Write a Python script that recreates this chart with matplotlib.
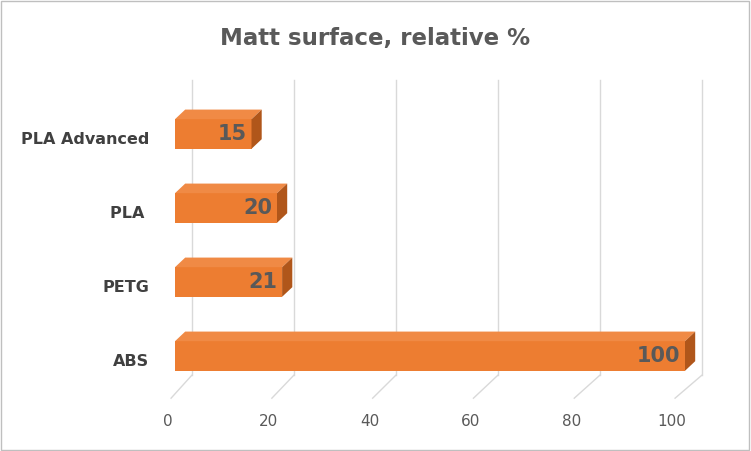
import numpy as np
import matplotlib.pyplot as plt
from matplotlib.patches import Polygon, Rectangle

# data
categories = ['ABS', 'PETG', 'PLA ', 'PLA Advanced']
values = [100, 21, 20, 15]
ticks = [0, 20, 40, 60, 80, 100]

front = '#ED7D31'
top = '#F08A45'
side = '#B0561A'
txt = '#595959'

fig = plt.figure(figsize=(7.51, 4.51), dpi=100)
ax = fig.add_axes([0, 0, 1, 1])
# pixel mapping: x px = 175 + 5.1*v ; y px = 356 - 74*i
ax.set_xlim(-175 / 5.1, (751 - 175) / 5.1)
ax.set_ylim(-95 / 74, 356 / 74)
ax.axis('off')

dx, dy = 2.0, 0.13       # bar depth
gx = 3.3                 # back wall offset
y_top, y_bot, y_floor = 3.73, -0.26, -0.57

# gridlines
for t in ticks:
    lx = -7 / 5.1 + t * 5.04 / 5.1
    ax.plot([t + gx, t + gx], [y_bot, y_top], color='#D9D9D9', lw=1, zorder=1)
    ax.plot([t + gx, lx + 0.6], [y_bot, y_floor], color='#D9D9D9', lw=1, zorder=1)
    ax.text(lx, -0.89, str(t), ha='center', va='center', fontsize=11, color=txt)

h = 0.4
for i, (c, v) in enumerate(zip(categories, values)):
    y0 = i - h / 2
    ax.add_patch(Rectangle((0, y0), v, h, facecolor=front, edgecolor='none', zorder=3))
    ax.add_patch(Polygon([(0, y0 + h), (v, y0 + h), (v + dx, y0 + h + dy), (dx, y0 + h + dy)],
                         facecolor=top, edgecolor='none', zorder=3))
    ax.add_patch(Polygon([(v, y0), (v + dx, y0 + dy), (v + dx, y0 + h + dy), (v, y0 + h)],
                         facecolor=side, edgecolor='none', zorder=3))
    ax.text(v - 1, i, str(v), ha='right', va='center', fontsize=15, fontweight='bold',
            color=txt, zorder=4)
    ax.text(-5, i - 0.08, c, ha='right', va='center', fontsize=11.5, fontweight='bold',
            color='#404040')

fig.text(0.5, 1 - 38 / 451, 'Matt surface, relative %', ha='center', va='center',
         fontsize=16.5, fontweight='semibold', color=txt)
fig.patches.append(Rectangle((0.001, 0.002), 0.997, 0.995, transform=fig.transFigure,
                             fill=False, edgecolor='#BFBFBF', lw=1))

fig.savefig('out.png', dpi=100)
